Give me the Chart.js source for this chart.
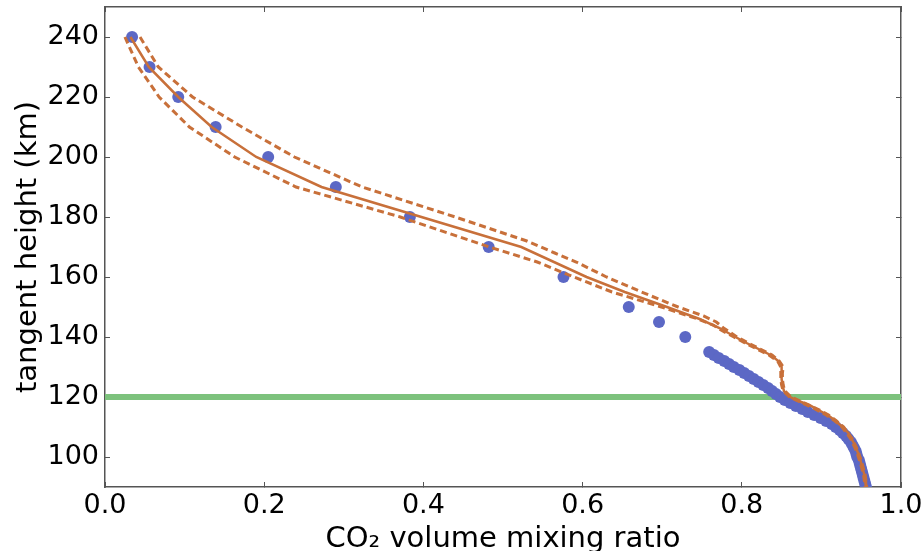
<!DOCTYPE html>
<html>
<head>
<meta charset="utf-8">
<script src="https://cdn.jsdelivr.net/npm/chart.js@4"></script>
<style>
  html, body { margin: 0; padding: 0; background: #fff; }
  canvas { display: block; }
</style>
</head>
<body>
<canvas id="profile-chart" width="923" height="551"></canvas>
<script>
// measured profile (blue dots)
const blueHeights = [240, 230, 220, 210, 200, 190, 180, 170, 160, 150, 145, 140,
  135, 134, 133, 132, 131, 130, 129, 128, 127, 126, 125, 124, 123, 122, 121, 120,
  119, 118, 117, 116, 115, 114, 113, 112, 111, 110, 109, 108, 107, 106, 105, 104,
  103, 102, 101, 100, 99, 98, 97, 96, 95, 94, 93, 92, 91, 90];
const blueRatios = [0.034, 0.056, 0.092, 0.139, 0.205, 0.290, 0.383, 0.482, 0.576, 0.658, 0.696, 0.729,
  0.759, 0.765, 0.771, 0.778, 0.784, 0.790, 0.797, 0.803, 0.809, 0.815, 0.821, 0.827, 0.833, 0.838, 0.843, 0.848,
  0.854, 0.861, 0.868, 0.876, 0.883, 0.891, 0.899, 0.906, 0.913, 0.918, 0.923, 0.927, 0.931, 0.934, 0.937, 0.939,
  0.941, 0.943, 0.944, 0.945, 0.947, 0.948, 0.949, 0.950, 0.951, 0.952, 0.953, 0.954, 0.955, 0.956];

// retrieved profile (solid orange)
const fitHeights = [240, 230, 220, 210, 200, 190, 170, 160, 155, 150, 146, 143, 140, 138, 136, 134, 132, 130,
  128, 126, 124, 122, 121, 120, 119, 118, 117, 116, 115, 114, 113, 112, 111, 110, 109, 108, 106, 104, 102, 100,
  98, 96, 94, 92, 90];
const fitRatios = [0.032, 0.055, 0.092, 0.134, 0.190, 0.272, 0.523, 0.605, 0.653, 0.706, 0.747, 0.772, 0.792, 0.806, 0.821, 0.836, 0.846, 0.850,
  0.850, 0.850, 0.851, 0.853, 0.856, 0.861, 0.868, 0.878, 0.887, 0.894, 0.901, 0.908, 0.913, 0.918, 0.922, 0.927, 0.930, 0.934, 0.938, 0.942, 0.945, 0.948,
  0.950, 0.952, 0.954, 0.955, 0.956];

// error bounds (dashed orange)
const upperHeights = [240, 230, 220, 210, 200, 190, 180, 172, 168, 165, 160, 155, 150, 147, 145, 143, 140, 138, 136, 134,
  132, 130, 128, 126, 124, 122, 120, 118, 116, 114, 112, 110, 106, 102, 98, 94, 90];
const upperRatios = [0.044, 0.067, 0.110, 0.172, 0.238, 0.323, 0.440, 0.530, 0.565, 0.592, 0.630, 0.674, 0.720, 0.752, 0.768, 0.777, 0.794, 0.808, 0.823, 0.838,
  0.847, 0.852, 0.851, 0.851, 0.852, 0.854, 0.862, 0.879, 0.895, 0.909, 0.919, 0.928, 0.939, 0.946, 0.951, 0.955, 0.957];
const lowerHeights = [240, 230, 220, 210, 200, 190, 180, 170, 165, 160, 155, 150, 146, 144, 142, 140, 138, 136, 134,
  132, 130, 128, 126, 124, 122, 120, 118, 116, 114, 112, 110, 106, 102, 98, 94, 90];
const lowerRatios = [0.025, 0.042, 0.068, 0.106, 0.163, 0.240, 0.371, 0.483, 0.543, 0.589, 0.637, 0.699, 0.745, 0.764, 0.776, 0.790, 0.804, 0.819, 0.834,
  0.845, 0.849, 0.849, 0.849, 0.850, 0.852, 0.860, 0.876, 0.892, 0.906, 0.917, 0.926, 0.937, 0.944, 0.949, 0.953, 0.955];

const cutoffHeight = 120;
const xTicks = [0.0, 0.2, 0.4, 0.6, 0.8, 1.0];
const yTicks = [100, 120, 140, 160, 180, 200, 220, 240];

const toPoints = (xs, ys) => xs.map((v, i) => ({x: v, y: ys[i]}));

Chart.defaults.font.family = "'DejaVu Sans', sans-serif";
Chart.defaults.color = '#000';

const axisColor = '#555';
const setX = s => { s.ticks = xTicks.map(v => ({value: v})); };
const setY = s => { s.ticks = yTicks.map(v => ({value: v})); };
// no extra room for labels hanging over the plot edges
const noPad = s => { s.paddingTop = 0; s.paddingBottom = 0; s.paddingLeft = 0; s.paddingRight = 0; };
const gridOpts = {drawOnChartArea: false, tickLength: -5, color: axisColor, lineWidth: 1};
const borderOpts = {color: axisColor, width: 1.5};

const ctx = document.getElementById('profile-chart').getContext('2d');
new Chart(ctx, {
  type: 'scatter',
  data: {
    datasets: [
      {
        label: 'retrieval',
        data: toPoints(fitRatios, fitHeights),
        showLine: true,
        borderColor: '#c8703a',
        borderWidth: 2.5,
        pointRadius: 0,
        order: 0
      },
      {
        label: 'upper',
        data: toPoints(upperRatios, upperHeights),
        showLine: true,
        borderColor: '#c8703a',
        borderWidth: 3,
        borderDash: [7, 4],
        pointRadius: 0,
        order: 1
      },
      {
        label: 'lower',
        data: toPoints(lowerRatios, lowerHeights),
        showLine: true,
        borderColor: '#c8703a',
        borderWidth: 3,
        borderDash: [7, 4],
        pointRadius: 0,
        order: 2
      },
      {
        label: 'measured',
        data: toPoints(blueRatios, blueHeights),
        showLine: false,
        backgroundColor: '#5c68c5',
        borderWidth: 0,
        pointRadius: 6,
        order: 3
      },
      {
        label: 'cutoff',
        data: [{x: 0, y: cutoffHeight}, {x: 1, y: cutoffHeight}],
        showLine: true,
        borderColor: '#7dc27d',
        borderWidth: 6,
        pointRadius: 0,
        order: 4
      }
    ]
  },
  options: {
    responsive: false,
    animation: false,
    devicePixelRatio: 1,
    layout: {padding: {left: 0, right: 22, top: 7, bottom: 0}},
    plugins: {legend: {display: false}, tooltip: {enabled: false}},
    scales: {
      x: {
        type: 'linear', position: 'bottom', min: 0, max: 1,
        afterBuildTicks: setX,
        afterFit: s => { s.height = 64; noPad(s); },
        ticks: {font: {size: 27}, padding: 8, maxRotation: 0, callback: v => v.toFixed(1)},
        grid: gridOpts, border: borderOpts,
        title: {display: true, text: 'CO₂ volume mixing ratio', font: {size: 29}, padding: {top: 0, bottom: -6}}
      },
      y: {
        type: 'linear', position: 'left', min: 90, max: 250,
        afterBuildTicks: setY,
        afterFit: s => { s.width = 105; noPad(s); },
        ticks: {font: {size: 27}, padding: 11},
        grid: gridOpts, border: borderOpts,
        title: {display: true, text: 'tangent height (km)', font: {size: 29}, padding: {top: 11, bottom: 0}}
      },
      x2: {
        type: 'linear', position: 'top', min: 0, max: 1,
        afterBuildTicks: setX,
        afterFit: s => { s.height = 0; noPad(s); },
        ticks: {display: false},
        grid: gridOpts, border: borderOpts
      },
      y2: {
        type: 'linear', position: 'right', min: 90, max: 250,
        afterBuildTicks: setY,
        afterFit: s => { s.width = 0; noPad(s); },
        ticks: {display: false},
        grid: gridOpts, border: borderOpts
      }
    }
  }
});
</script>
</body>
</html>
